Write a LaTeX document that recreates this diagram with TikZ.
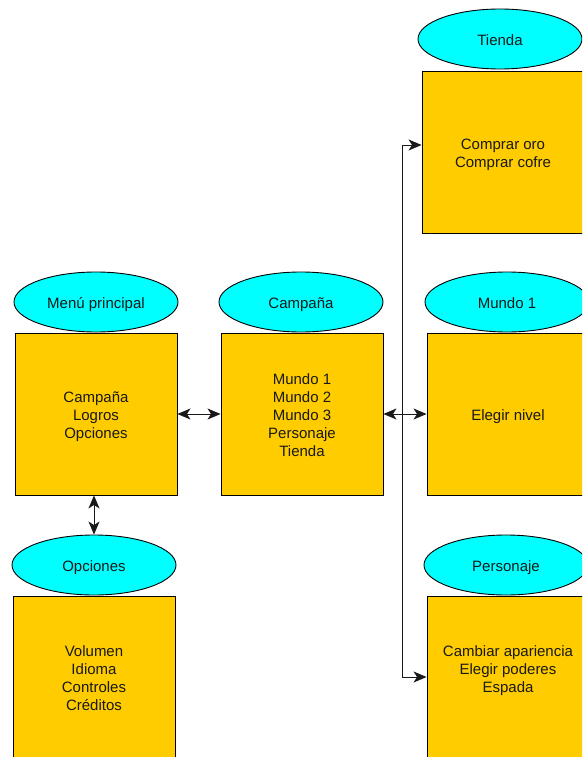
\documentclass[tikz,border=0pt]{standalone}
\usepackage{fontspec}
\setmainfont{Liberation Sans}
\usetikzlibrary{shapes.geometric,arrows.meta}
\definecolor{boxfill}{HTML}{FFCC00}
\definecolor{ellfill}{HTML}{00FFFF}
% centred lines of text, 18pt apart; the first row gets a little extra room on top
\newcommand\lines[1]{\begin{tabular}{@{}c@{}}\rule{0pt}{19.2pt}#1\end{tabular}}
% same, with extra room under the last row (text sits higher)
\newcommand\highlines[1]{\begin{tabular}{@{}c@{}}#1\rule[-17.8pt]{0pt}{0pt}\end{tabular}}
\tikzset{
  txt/.style={font=\fontsize{15}{18}\selectfont, text=black!90},
  screen/.style={txt, draw=black, line width=0.9pt, fill=boxfill, minimum width=162pt,
    minimum height=162pt, inner sep=0pt},
  title/.style={txt, ellipse, draw=black, line width=0.9pt, fill=ellfill, minimum width=164pt,
    minimum height=60pt, inner sep=0pt,
    execute at begin node={\rule{0pt}{16.5pt}},
    execute at end node={\rule[-3pt]{0pt}{3pt}}},
  link/.style={draw=black!90, line width=1pt},
  both/.style={link, {Stealth[length=13pt, width=11pt, inset=3.5pt]}-{Stealth[length=13pt, width=11pt, inset=3.5pt]}},
  single/.style={link, -{Stealth[length=13pt, width=11pt, inset=3.5pt]}}
}
\begin{document}
\begin{tikzpicture}[x=1pt, y=-1pt]
\useasboundingbox (0,0) rectangle (582,757);
\begin{scope}
\clip (0,0) rectangle (582,757);
% main menu
\node[title] (menuE) at (96,302) {Menú principal};
\node[screen] (menuB) at (96,414) {\lines{Campaña\\Logros\\Opciones}};
% campaign
\node[title] (campE) at (301,302) {Campaña};
\node[screen] (campB) at (302,414) {\lines{Mundo 1\\Mundo 2\\Mundo 3\\Personaje\\Tienda}};
% world 1
\node[title] (mundoE) at (507,302) {Mundo 1};
\node[screen] (mundoB) at (508,414) {\lines{Elegir nivel}};
% shop
\node[title] (tiendaE) at (500,39) {Tienda};
\node[screen] (tiendaB) at (503,152) {\lines{Comprar oro\\Comprar cofre}};
% character
\node[title] (persE) at (506,565) {Personaje};
\node[screen] (persB) at (508,677) {\highlines{Cambiar apariencia\\Elegir poderes\\Espada}};
% options
\node[title] (opcE) at (94,565) {Opciones};
\node[screen] (opcB) at (94,677) {\lines{Volumen\\Idioma\\Controles\\Créditos}};
\end{scope}
% connectors
\coordinate (split) at (402,414);
\draw[both] (menuB.east) -- (campB.west);
\draw[both] (campB.east) -- (mundoB.west);
\draw[both] (opcE.north |- menuB.south) -- (opcE.north);
\draw[single] (split) |- ([yshift=7pt]tiendaB.west);
\draw[single] (split) |- (persB.west);
\end{tikzpicture}
\end{document}
